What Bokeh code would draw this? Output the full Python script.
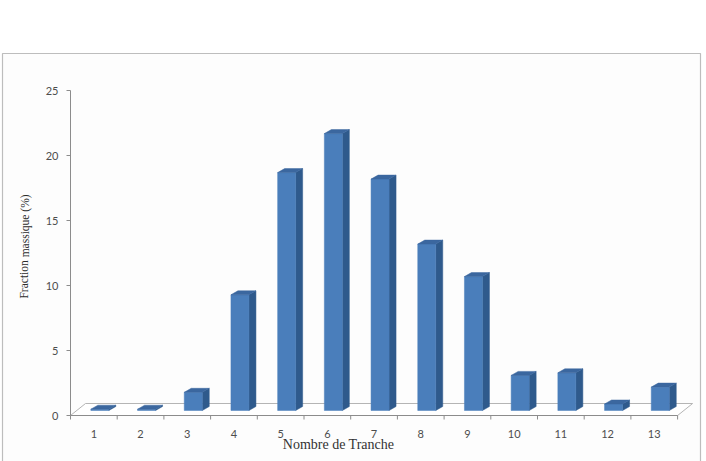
from bokeh.plotting import figure
from bokeh.models import Range1d, ColumnDataSource
from bokeh.core.properties import value
from bokeh.embed import file_html
from bokeh.resources import INLINE

# ---- data ----
categories = [1, 2, 3, 4, 5, 6, 7, 8, 9, 10, 11, 12, 13]
fraction = [0.1, 0.1, 1.4, 8.9, 18.3, 21.3, 17.8, 12.8, 10.3, 2.7, 2.9, 0.5, 1.8]
y_ticks = [0, 5, 10, 15, 20, 25]
x_labels = [str(c) for c in categories]
x_title = "Nombre de Tranche"
y_title = "Fraction massique (%)"

# ---- layout (pixel styling) ----
W, H = 706, 461
PX_CAT = 46.7      # pixels per category
PX_UNIT = 13.0     # pixels per value unit
AX_LEFT_PX = 70    # pixel of category slot 0.5
BASE_PX = 415      # pixel (from top) of value 0

def dxu(px):
    return px / PX_CAT

def dyu(px):
    return px / PX_UNIT

def X(px):
    return 0.5 + (px - AX_LEFT_PX) / PX_CAT

def Y(py):
    return (BASE_PX - py) / PX_UNIT

p = figure(width=W, height=H, output_backend="svg", toolbar_location=None,
           x_range=Range1d(X(0), X(W)), y_range=Range1d(Y(H), Y(0)),
           min_border=0, min_border_left=0, min_border_right=0,
           min_border_top=0, min_border_bottom=0)
p.axis.visible = False
p.grid.visible = False
p.outline_line_color = None
p.background_fill_color = "white"
p.border_fill_color = "white"

# outer chart border
p.patch([X(2), X(700), X(700), X(2)], [Y(53), Y(53), Y(470), Y(470)],
        fill_color="#fdfdfd", line_color="#bdbdbd", line_width=1.2)

# floor
first, last = categories[0] - 0.5, categories[-1] + 0.5
fdx, fdy = dxu(15), dyu(12)
p.patch([first, last, last + fdx, first + fdx], [0, 0, fdy, fdy],
        fill_color="white", line_color="#b5b5b5", line_width=1)
# front edge of floor (category axis line)
p.line([first, last], [0, 0], line_color="#8c8c8c", line_width=1)

# value axis
p.line([first, first], [y_ticks[0], y_ticks[-1]], line_color="#8c8c8c", line_width=1)
p.segment(x0=[first - dxu(4)] * len(y_ticks), y0=y_ticks,
          x1=[first] * len(y_ticks), y1=y_ticks, line_color="#8c8c8c", line_width=1)
p.text(x=[first - dxu(12)] * len(y_ticks), y=y_ticks, text=[str(t) for t in y_ticks],
       text_align="right", text_baseline="middle", text_font=value("Lato"),
       text_font_size="11px", text_color="#4d4d4d")

# category axis ticks (at slot boundaries)
bounds = [c - 0.5 for c in categories] + [categories[-1] + 0.5]
p.segment(x0=bounds, y0=[0] * len(bounds), x1=bounds, y1=[-dyu(4)] * len(bounds),
          line_color="#8c8c8c", line_width=1)
p.text(x=categories, y=[Y(433)] * len(categories), text=x_labels,
       text_align="center", text_baseline="middle", text_font=value("Lato"),
       text_font_size="11px", text_color="#4d4d4d")

# axis titles
p.text(x=[X(338)], y=[Y(444)], text=[x_title], text_align="center",
       text_baseline="middle", text_font=value("Liberation Serif"),
       text_font_size="14px", text_color="#333333")
p.text(x=[X(24)], y=[Y(246)], text=[y_title], text_align="center",
       text_baseline="middle", angle=1.5707963, text_font=value("Liberation Serif"),
       text_font_size="11.5px", text_color="#2b2b2b")

# 3D bars
base = dyu(5)
off_l, off_r = dxu(-3), dxu(15)
sdx, sdy = dxu(7), dyu(4)
fronts = dict(left=[], right=[], bottom=[], top=[])
tops_x, tops_y, sides_x, sides_y = [], [], [], []
for c, v in zip(categories, fraction):
    L, R = c + off_l, c + off_r
    B, T = base, base + v
    fronts["left"].append(L); fronts["right"].append(R)
    fronts["bottom"].append(B); fronts["top"].append(T)
    sides_x.append([R, R + sdx, R + sdx, R]); sides_y.append([B, B + sdy, T + sdy, T])
    tops_x.append([L, R, R + sdx, L + sdx]); tops_y.append([T, T, T + sdy, T + sdy])

p.patches(sides_x, sides_y, fill_color="#2f5a8c", line_color="#2f5a8c", line_width=0.5)
p.quad(source=ColumnDataSource(fronts), left="left", right="right", bottom="bottom",
       top="top", fill_color="#4a7ebb", line_color="#4a7ebb", line_width=0.5)
p.patches(tops_x, tops_y, fill_color="#3b679f", line_color="#3b679f", line_width=0.5)

open("out.html", "w").write(file_html(p, INLINE))
